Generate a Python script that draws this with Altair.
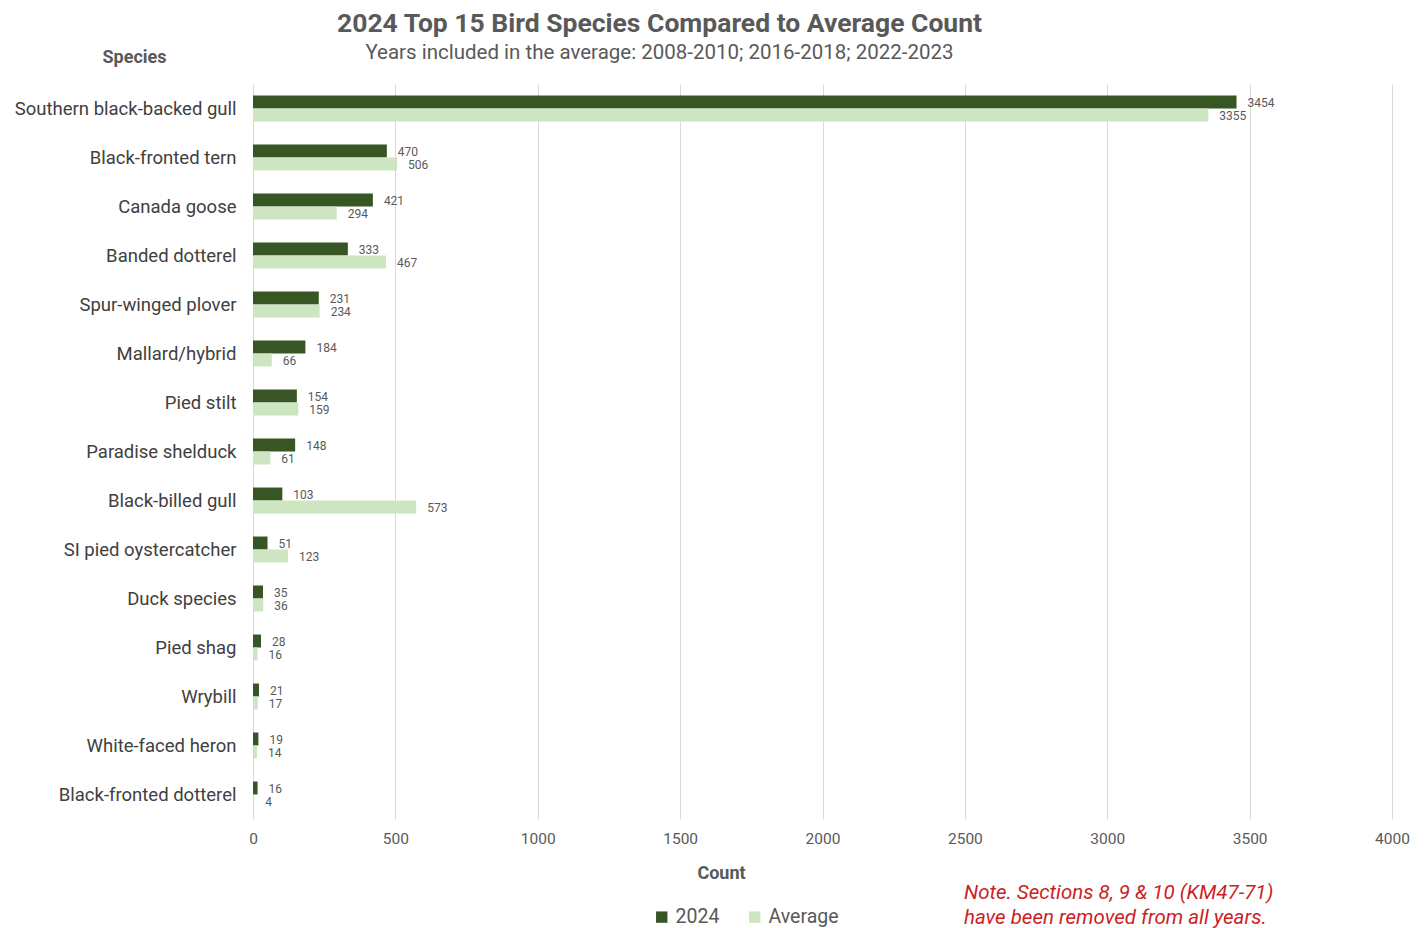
import altair as alt
import pandas as pd

species = ["Southern black-backed gull", "Black-fronted tern", "Canada goose", "Banded dotterel",
           "Spur-winged plover", "Mallard/hybrid", "Pied stilt", "Paradise shelduck",
           "Black-billed gull", "SI pied oystercatcher", "Duck species", "Pied shag",
           "Wrybill", "White-faced heron", "Black-fronted dotterel"]
count_2024 = [3454, 470, 421, 333, 231, 184, 154, 148, 103, 51, 35, 28, 21, 19, 16]
count_avg = [3355, 506, 294, 467, 234, 66, 159, 61, 573, 123, 36, 16, 17, 14, 4]
series = ["2024", "Average"]
colors = ["#375623", "#cde6c1"]
x_ticks = [0, 500, 1000, 1500, 2000, 2500, 3000, 3500, 4000]
note_lines = ["Note. Sections 8, 9 & 10 (KM47-71)", "have been removed from all years."]

rows = []
for s, a, b in zip(species, count_2024, count_avg):
    rows.append({"Species": s, "Series": "2024", "Count": a})
    rows.append({"Species": s, "Series": "Average", "Count": b})
df = pd.DataFrame(rows)

FONT = "Roboto"
GRAY = "#595959"

y_enc = alt.Y("Species:N", sort=species,
              scale=alt.Scale(paddingInner=0.47, paddingOuter=0.235),
              axis=alt.Axis(title="Species", titleAngle=0, titleX=-119, titleY=-27,
                            titleAlign="center", titleBaseline="middle",
                            titleFontSize=18, titleFontWeight="bold", titleColor=GRAY,
                            titleFont=FONT,
                            labelFontSize=18.5, labelColor="#404040", labelFont=FONT,
                            labelPadding=17, labelLimit=320, ticks=False, domain=False,
                            grid=False))
x_enc = alt.X("Count:Q",
              scale=alt.Scale(domain=[0, 4000], nice=False),
              axis=alt.Axis(title="Count", values=x_ticks, format="d", grid=True,
                            gridColor="#d9d9d9", labelFlush=False,
                            ticks=False, domain=False, labelFontSize=15.5, labelColor=GRAY,
                            labelFont=FONT, labelPadding=12, titleFontSize=18,
                            titleFontWeight="bold", titleColor=GRAY, titleFont=FONT,
                            titlePadding=18, titleX=468))
yoff = alt.YOffset("Series:N", sort=series)

base = alt.Chart(df)

bars = base.mark_bar().encode(
    y=y_enc, x=x_enc, yOffset=yoff,
    color=alt.Color("Series:N", sort=series,
                    scale=alt.Scale(domain=series, range=colors),
                    legend=alt.Legend(title=None, orient="none", direction="horizontal",
                                      legendX=399, legendY=823, symbolType="square",
                                      symbolSize=130, symbolStrokeWidth=0,
                                      labelFontSize=19.5, labelColor=GRAY, labelFont=FONT,
                                      columnPadding=25, labelOffset=4)),
)

labels = base.mark_text(align="left", baseline="middle", dx=11, dy=1, fontSize=12,
                        color=GRAY, font=FONT).encode(
    y=alt.Y("Species:N", sort=species), x="Count:Q", yOffset=yoff,
    text="Count:Q",
)

note = alt.Chart(pd.DataFrame({"t": ["\n".join(note_lines)]})).mark_text(
    align="left", baseline="top", fontSize=20.5, fontStyle="italic", color="#cc1f1f",
    font=FONT, lineBreak="\n", lineHeight=25,
).encode(x=alt.value(711), y=alt.value(799), text="t:N")

chart = alt.layer(bars, labels, note).properties(
    width=1139, height=735,
    padding={"left": 253, "top": 84, "right": 35, "bottom": 109},
    autosize=alt.AutoSizeParams(type="none"),
    title=alt.TitleParams(
        text="2024 Top 15 Bird Species Compared to Average Count",
        subtitle="Years included in the average: 2008-2010; 2016-2018; 2022-2023",
        anchor="middle", frame="group", dx=-163, offset=-15,
        fontSize=26.5, fontWeight="bold", color=GRAY, font=FONT,
        subtitleFontSize=20.5, subtitleColor=GRAY, subtitleFont=FONT, subtitlePadding=5,
    ),
).configure_view(stroke=None)

chart.save("out.html", embed_options={"renderer": "svg", "actions": False})
